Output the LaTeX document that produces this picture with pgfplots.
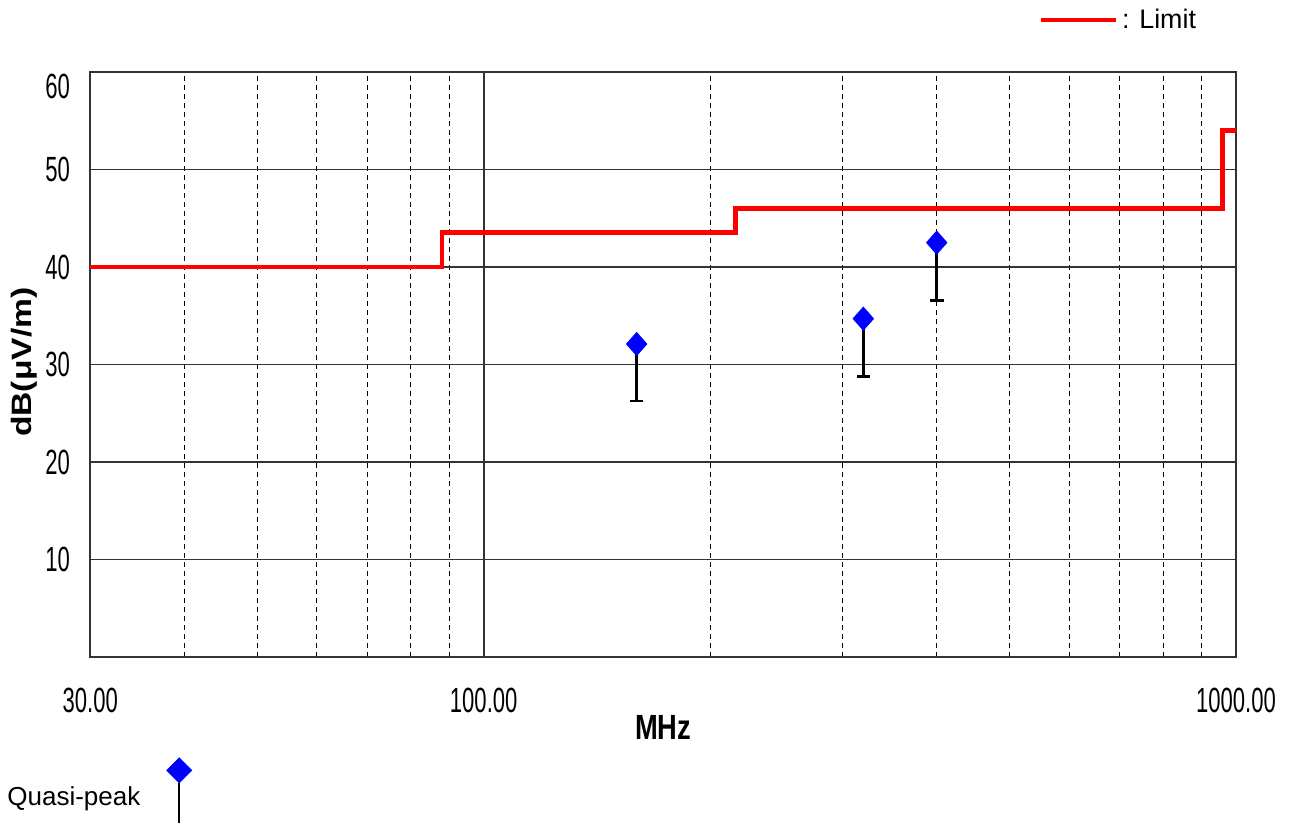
\documentclass[border=0pt]{standalone}
\usepackage{fontspec}
\setmainfont{Liberation Sans}
\newfontfamily\narrowfont{Liberation Sans}[FakeStretch=0.63]
\newfontfamily\narrowbold{Liberation Sans Bold}[FakeStretch=0.78]
\newfontfamily\widebold{Liberation Sans Bold}[FakeStretch=1.2]
\usepackage{pgfplots}
\pgfplotsset{compat=1.18}
\definecolor{gridgray}{HTML}{333333}
\begin{document}
\begin{tikzpicture}
\path[use as bounding box] (0,0) rectangle (645pt,411.5pt);
\begin{axis}[
  at={(45.15pt,83pt)}, anchor=south west,
  scale only axis, width=572.85pt, height=292.5pt,
  xmode=log, xmin=30, xmax=1000, ymin=0, ymax=60,
  log basis x=10,
  xtick={30,100,1000}, xticklabels={30.00,100.00,1000.00},
  minor xtick={40,50,60,70,80,90,200,300,400,500,600,700,800,900},
  ytick={10,20,30,40,50}, yticklabels={10,20,30,40,50},
  extra y ticks={60}, extra y tick labels={60},
  extra y tick style={yticklabel style={yshift=-7pt}, ymajorgrids=false},
  major tick length=0pt, minor tick length=0pt,
  xmajorgrids, ymajorgrids, xminorgrids,
  major grid style={gridgray, line width=0.9pt},
  minor grid style={black, line width=0.5pt, dash pattern=on 2.5pt off 2pt},
  axis line style={gridgray, line width=0.9pt},
  every x tick label/.style={font=\narrowfont\fontsize{17.5}{18}\selectfont, anchor=north, inner sep=0pt, yshift=-15.5pt},
  every y tick label/.style={font=\narrowfont\fontsize{17.5}{18}\selectfont, anchor=east, inner sep=0pt, xshift=-10pt},
  xlabel={MHz},
  xlabel style={at={(axis description cs:0.5,-0.1205)}, anchor=center, font=\narrowbold\fontsize{17.5}{18}\selectfont, inner sep=0pt},
  ylabel={dB(μV/m)},
  ylabel style={at={(axis description cs:-0.0579,0.504)}, anchor=center, font=\widebold\fontsize{14}{15}\selectfont, inner sep=0pt},
  legend style={at={(axis description cs:0.827,1.089)}, anchor=west, draw=none, fill=none, inner sep=0pt, font=\fontsize{13.4}{14}\selectfont},
  legend image code/.code={\draw[#1] (0pt,0pt) -- (37.5pt,0pt);},
  clip=false,
]
\addplot[red, line width=2.4pt, line join=miter] coordinates {
  (30,40) (88,40) (88,43.5) (216,43.5) (216,46) (960,46) (960,54) (1000,54)
};
\addlegendentry{: Limit}
\addplot[only marks, mark=diamond*, mark size=6.8pt, mark options={blue, draw=blue, fill=blue, yscale=0.85},
  error bars/.cd, y dir=minus, y explicit,
  error bar style={black, line width=1.4pt},
  error mark options={black, rotate=90, mark size=3.4pt, line width=1.4pt}]
  coordinates {
  (159.7,32.1) -= (0,5.84)
  (319.6,34.7) -= (0,5.95)
  (400.1,42.5) -= (0,5.9)
};
\end{axis}
\begin{axis}[
  at={(45.15pt,83pt)}, anchor=south west,
  scale only axis, width=572.85pt, height=292.5pt,
  xmin=0, xmax=1, ymin=0, ymax=1, hide axis,
  legend plot pos=right,
  legend style={at={(axis description cs:-0.0762,-0.234)}, anchor=west, draw=none, fill=none, inner sep=0pt, font=\fontsize{13}{14}\selectfont},
  legend image code/.code={
    \path (0pt,0pt);
    \draw[black, line width=0.9pt] (17.25pt,7pt) -- (17.25pt,-16pt);
    \fill[blue] (17.25pt,19.75pt) -- (23.5pt,13.5pt) -- (17.25pt,7.25pt) -- (11pt,13.5pt) -- cycle;
  },
]
\addlegendimage{}
\addlegendentry{Quasi-peak}
\end{axis}
\end{tikzpicture}
\end{document}
